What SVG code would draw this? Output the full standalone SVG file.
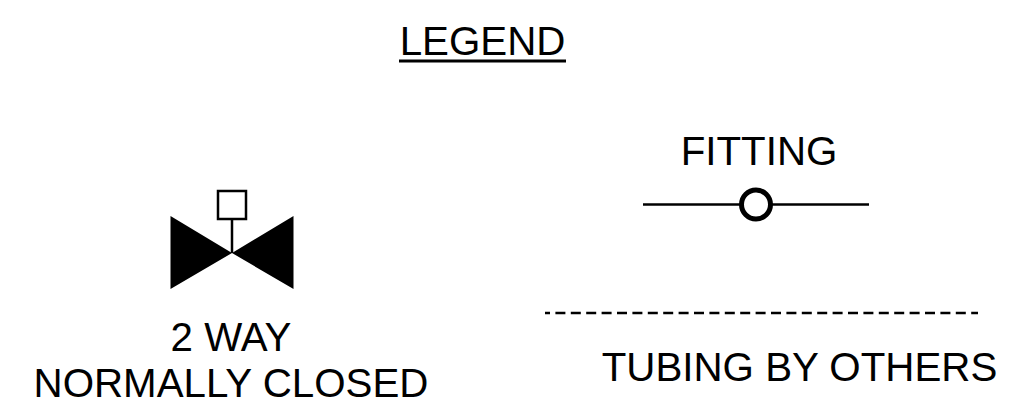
<svg xmlns="http://www.w3.org/2000/svg" width="1012" height="402" viewBox="0 0 1012 402">
  <style>
    text { font-family: "Liberation Sans", Arial, sans-serif; font-size: 40.3px; fill: #000; text-anchor: middle; }
    .line { fill: none; stroke: #000; stroke-width: 2.5; }
  </style>
  <rect width="1012" height="402" fill="#fff"/>
  <g id="title">
    <text x="482.500" y="55">LEGEND</text>
    <rect x="399" y="59.500" width="167" height="3" fill="#000"/>
  </g>
  <g id="valve">
    <path d="M170.500 216 L232 253 L293.500 216 L293.500 289 L232 253 L170.500 289 Z" fill="#000"/>
    <rect x="218" y="191" width="28" height="28" fill="#fff" stroke="#000" stroke-width="2.500"/>
    <path class="line" d="M232 219 V253"/>
    <text x="231" y="351">2 WAY</text>
    <text x="231" y="397">NORMALLY CLOSED</text>
  </g>
  <g id="fitting">
    <text x="759" y="165">FITTING</text>
    <path class="line" d="M643 204.500 H869"/>
    <circle cx="756" cy="204.500" r="14.500" fill="#fff" stroke="#000" stroke-width="5"/>
  </g>
  <g id="tubing">
    <path class="line" d="M545 313 H978" stroke-dasharray="10 5.400" stroke-dashoffset="5"/>
    <text x="799.500" y="381">TUBING BY OTHERS</text>
  </g>
</svg>
